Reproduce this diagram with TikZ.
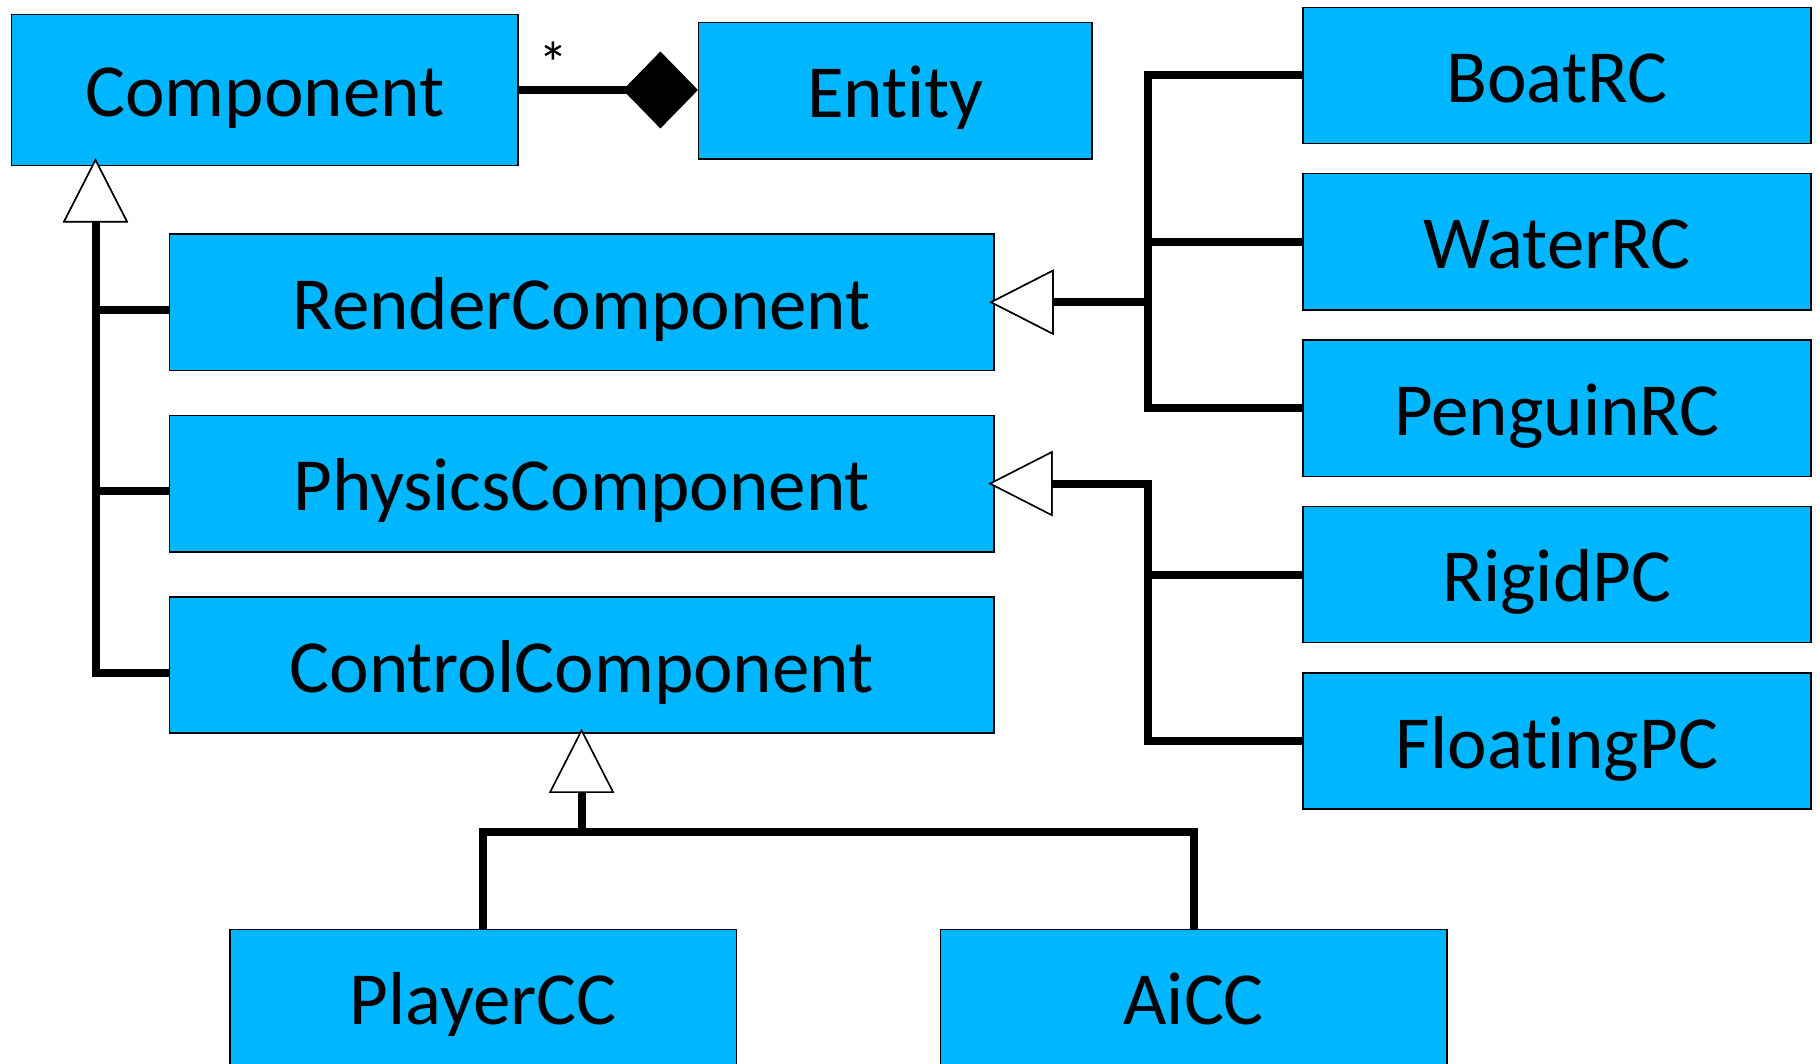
\documentclass[tikz,border=0pt]{standalone}
\usepackage{fontspec}
\setmainfont{Carlito}[Ligatures=NoCommon]
\usetikzlibrary{arrows.meta}

\definecolor{umlblue}{RGB}{0,182,255}

\begin{document}
\begin{tikzpicture}[x=1pt,y=-1pt,
    umlbox/.style={draw=black,line width=1.5pt,fill=umlblue,inner sep=0pt,
        minimum height=136.4pt,text height=54pt,text depth=0pt,
        font=\fontsize{75}{90}\selectfont},
    conn/.style={line width=8pt},
    gen/.style={conn,-{Triangle[fill=white,length=64pt,width=65pt,line width=1.5pt]}},
    comp/.style={conn,-{Diamond[length=75pt,width=77pt,line width=1pt]}}]
    \useasboundingbox (0,0) rectangle (1820,1064);
    \clip (0,0) rectangle (1820,1064);

    \node[umlbox,minimum width=506.3pt,minimum height=151.4pt] (component) at (264.8,90) {Component};
    \node[umlbox,minimum width=393.5pt] (entity) at (895.4,90.7) {Entity};

    \node[umlbox,minimum width=824.4pt] (render) at (581.6,302.2) {RenderComponent};
    \node[umlbox,minimum width=824.4pt] (physics) at (581.6,483.6) {PhysicsComponent};
    \node[umlbox,minimum width=824.4pt] (control) at (581.6,665) {ControlComponent};

    \node[umlbox,minimum width=507.6pt] (boat) at (1557,75.5) {BoatRC};
    \node[umlbox,minimum width=507.6pt] (water) at (1557,241.8) {WaterRC};
    \node[umlbox,minimum width=507.6pt] (penguin) at (1557,408.3) {PenguinRC};
    \node[umlbox,minimum width=507.6pt] (rigid) at (1557,574.5) {RigidPC};
    \node[umlbox,minimum width=507.6pt] (floating) at (1557,741) {FloatingPC};

    \node[umlbox,minimum width=506.6pt] (player) at (483.2,997.5) {PlayerCC};
    \node[umlbox,minimum width=506.6pt] (aicc) at (1193.7,997.5) {AiCC};

    \coordinate (ltrunk) at (95.5,166);
    \coordinate (rtrunk) at (1148,0);
    \coordinate (cbus) at (0,831.7);

    \draw[comp] (component.east) -- (component.east -| entity.west);
    \node[anchor=base,inner sep=0pt,font=\fontsize{60}{62}\selectfont] (mult) at (553.8,85) {*};

    \draw[gen,shorten >=-7.5pt] ([yshift=-7.5pt]render.west) -| (ltrunk);
    \draw[gen,shorten >=-7.5pt] ([yshift=-7.5pt]physics.west) -| (ltrunk);
    \draw[gen,shorten >=-7.5pt] ([yshift=-7.5pt]control.west) -| (ltrunk);

    \draw[gen,shorten >=-5pt] (boat.west) -- (boat.west -| rtrunk) |- (render.east);
    \draw[gen,shorten >=-5pt] (water.west) -- (water.west -| rtrunk) |- (render.east);
    \draw[gen,shorten >=-5pt] (penguin.west) -- (penguin.west -| rtrunk) |- (render.east);

    \draw[gen,shorten >=-6pt] (rigid.west) -- (rigid.west -| rtrunk) |- (physics.east);
    \draw[gen,shorten >=-6pt] (floating.west) -- (floating.west -| rtrunk) |- (physics.east);

    \draw[gen,shorten >=-5pt] (player.north) |- (cbus -| control.south) -- (control.south);
    \draw[gen,shorten >=-5pt] (aicc.north) |- (cbus -| control.south) -- (control.south);

\end{tikzpicture}
\end{document}
